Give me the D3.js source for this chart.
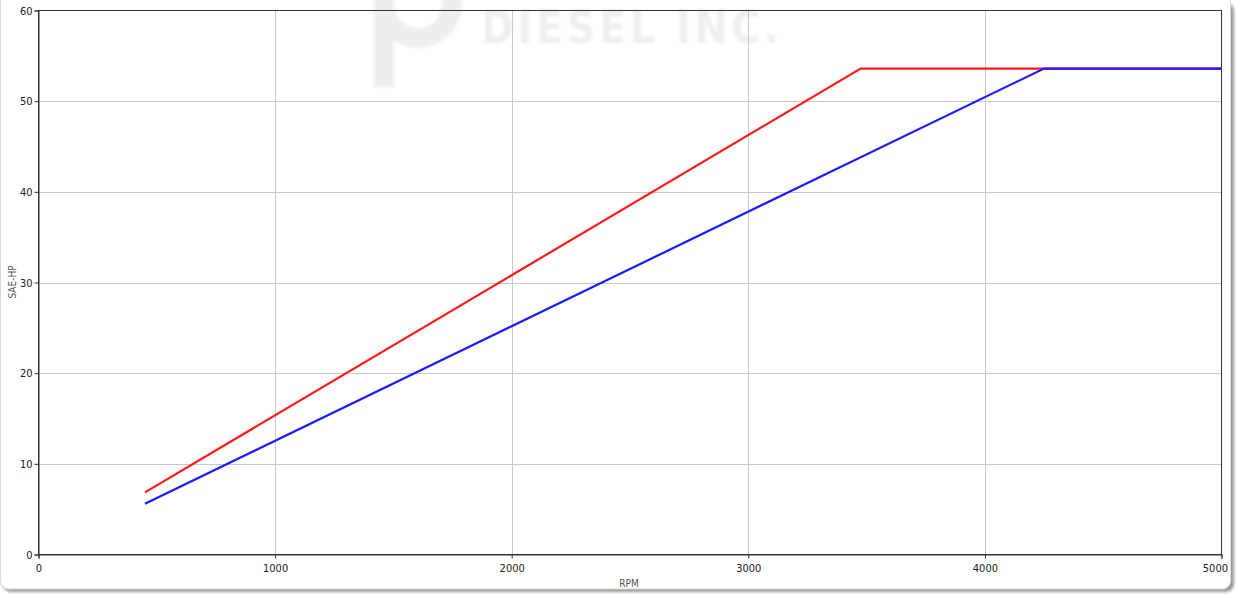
<!DOCTYPE html>
<html><head><meta charset="utf-8">
<script src="https://cdn.jsdelivr.net/npm/d3@7"></script>
<style>
html,body{margin:0;padding:0;background:#fff;}
svg{display:block;}
text{font-family:Tahoma,"DejaVu Sans Condensed","Liberation Sans",Arial,sans-serif;}
</style></head>
<body>
<svg id="chart" width="1236" height="594"></svg>
<script>
const xTicks = [0, 1000, 2000, 3000, 4000, 5000];
const yTicks = [0, 10, 20, 30, 40, 50, 60];
const redRpm = [450, 3475, 5000];
const redHp = [6.85, 53.6, 53.6];
const blueRpm = [450, 4250, 5000];
const blueHp = [5.6, 53.6, 53.6];
const xTitle = "RPM";
const yTitle = "SAE-HP";
const watermark = "DIESEL INC.";

const svg = d3.select("#chart");
const defs = svg.append("defs");
const f = defs.append("filter").attr("id","blur").attr("x","-10%").attr("y","-20%").attr("width","120%").attr("height","140%");
f.append("feGaussianBlur").attr("stdDeviation",1.6);
const sh = defs.append("filter").attr("id","shadow").attr("x","-5%").attr("y","-5%").attr("width","110%").attr("height","110%");
sh.append("feGaussianBlur").attr("stdDeviation",1.5);

// panel with shadow
svg.append("rect").attr("x",3).attr("y",3).attr("width",1231).attr("height",589).attr("rx",8)
  .attr("fill","#9a9a9a").attr("filter","url(#shadow)");
svg.append("rect").attr("x",0.5).attr("y",-8).attr("width",1230).attr("height",597).attr("rx",8)
  .attr("fill","#fff").attr("stroke","#d8d8d8");

const L = 38.5, R = 1221.5, T = 10.5, B = 554.5;
const x = d3.scaleLinear().domain([0,5000]).range([L,R]);
const y = d3.scaleLinear().domain([0,60]).range([B,T]);

// watermark
const wm = svg.append("g").attr("filter","url(#blur)").attr("fill","#eeeeee");
const cx = 418, cy = 4, ro = 44, ri = 24;
wm.append("path").attr("fill-rule","evenodd").attr("d",
  `M${cx-ro},${cy} A${ro},${ro} 0 1 0 ${cx+ro},${cy} A${ro},${ro} 0 1 0 ${cx-ro},${cy} Z ` +
  `M${cx-ri},${cy} A${ri},${ri} 0 1 1 ${cx+ri},${cy} A${ri},${ri} 0 1 1 ${cx-ri},${cy} Z`);
wm.append("rect").attr("x",374).attr("y",-5).attr("width",20).attr("height",92);
wm.append("text").attr("x",481).attr("y",43).attr("font-size",44).attr("font-weight","bold")
  .attr("font-family","'Liberation Sans',Arial,sans-serif")
  .attr("textLength",298).attr("lengthAdjust","spacing").text(watermark);

// grid
svg.append("g").selectAll("line").data(xTicks.slice(1,-1)).join("line")
  .attr("x1",d=>Math.round(x(d))+0.5).attr("x2",d=>Math.round(x(d))+0.5).attr("y1",T).attr("y2",B)
  .attr("stroke","#c8c8c8").attr("stroke-width",1);
svg.append("g").selectAll("line").data(yTicks.slice(1,-1)).join("line")
  .attr("y1",d=>Math.round(y(d))+0.5).attr("y2",d=>Math.round(y(d))+0.5).attr("x1",L).attr("x2",R)
  .attr("stroke","#c8c8c8").attr("stroke-width",1);

// border
svg.append("rect").attr("x",L).attr("y",T).attr("width",R-L).attr("height",B-T)
  .attr("fill","none").attr("stroke","#333").attr("stroke-width",1);

// axes
const xa = svg.append("g").attr("transform",`translate(0,${B})`)
  .call(d3.axisBottom(x).tickValues(xTicks).tickSize(4).tickFormat(d3.format("d")));
const ya = svg.append("g").attr("transform",`translate(${L},0)`)
  .call(d3.axisLeft(y).tickValues(yTicks).tickSize(4).tickFormat(d3.format("d")));
[xa,ya].forEach(a=>{
  a.select(".domain").attr("stroke","#333");
  a.selectAll(".tick line").attr("stroke","#333");
  a.selectAll(".tick text").attr("fill","#222").attr("font-size",11).attr("font-family",null);
});
xa.selectAll(".tick text").attr("dy","0.71em").attr("y",10);
ya.selectAll(".tick text").attr("x",-6);
xa.selectAll(".tick").filter(d=>d===5000).select("text").attr("text-anchor","end").attr("dx",6);

// titles
svg.append("text").attr("x",629).attr("y",587).attr("text-anchor","middle").attr("font-size",10).attr("fill","#555").text(xTitle);
svg.append("text").attr("transform","translate(16,282) rotate(-90)").attr("text-anchor","middle").attr("font-size",10).attr("fill","#555").text(yTitle);

// lines
const line = d3.line().x(d=>x(d[0])).y(d=>y(d[1]));
svg.append("path").datum(d3.zip(redRpm,redHp)).attr("d",line).attr("fill","none").attr("stroke","#ff1a1a").attr("stroke-width",2.2);
svg.append("path").datum(d3.zip(blueRpm,blueHp)).attr("d",line).attr("fill","none").attr("stroke","#1a1aff").attr("stroke-width",2.2);
</script>
</body></html>
